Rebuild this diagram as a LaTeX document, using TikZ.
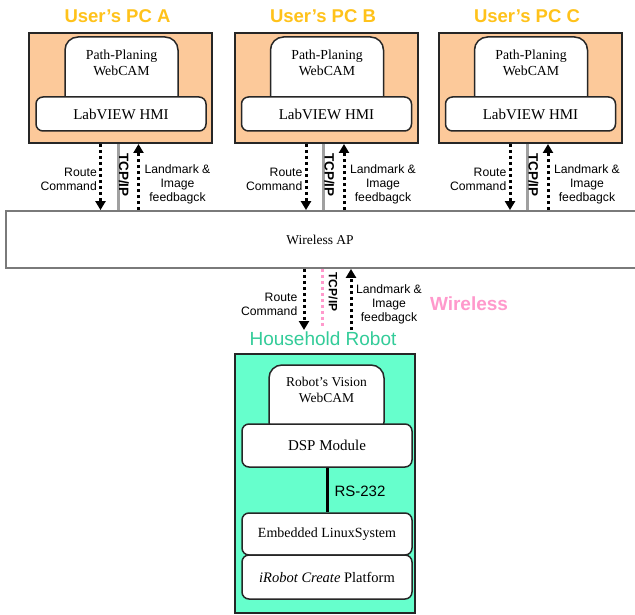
\documentclass[tikz,border=0pt]{standalone}
\usepackage{fontspec}
\setmainfont{Liberation Serif}
\setsansfont{Liberation Sans}
\usetikzlibrary{arrows.meta,calc}

\definecolor{pcfill}{HTML}{FCC99A}
\definecolor{robotfill}{HTML}{66FFCC}
\definecolor{titlegold}{HTML}{FFC21A}
\definecolor{robotteal}{HTML}{33CC99}
\definecolor{wirelesspink}{HTML}{FF99CC}
\definecolor{apgray}{HTML}{7A7A7A}
\definecolor{tcpgray}{HTML}{A0A0A0}

\tikzset{
  outerbox/.style={draw=black!85, line width=2pt, fill=#1, inner sep=0pt},
  cambox/.style={draw=black!85, line width=1.5pt, fill=white, rounded corners=13pt, inner sep=0pt},
  modbox/.style={draw=black!85, line width=1.5pt, fill=white, rounded corners=7pt, inner sep=0pt,
    font=\fontsize{15}{17}\selectfont},
  boxtext/.style={align=center, font=\fontsize{13.8}{16}\selectfont, inner sep=0pt},
  title/.style={font=\sffamily\bfseries\fontsize{18.5}{20}\selectfont, text=titlegold, inner sep=0pt},
  lbl/.style={font=\sffamily\fontsize{12.2}{14}\selectfont, inner sep=0pt},
  tcplbl/.style={font=\sffamily\bfseries\fontsize{13.5}{15}\selectfont, rotate=-90, inner sep=0pt},
  flow/.style={line width=3pt, dash pattern=on 3pt off 3pt,
    -{Triangle[width=10pt,length=9pt]}},
  tcpline/.style={line width=3pt, draw=tcpgray},
  wlline/.style={line width=3pt, draw=wirelesspink, dash pattern=on 3pt off 3pt},
}

\begin{document}
\begin{tikzpicture}[x=1pt,y=-1pt]
\useasboundingbox (0,0) rectangle (635,615);
\fill[white] (0,0) rectangle (635,615);

% Wireless access point bar (runs past the right edge)
\node[draw=apgray, line width=1.8pt, fill=white, minimum width=634pt, minimum height=57pt,
  inner sep=0pt] (wap) at (323,239.5) {};
\node[boxtext, font=\fontsize{13.5}{15}\selectfont] (waptext) at (320,240) {Wireless AP};

% The three user PCs
\foreach \n/\cx in {A/120.5, B/326, C/530}{
  \node[outerbox=pcfill, minimum width=183pt, minimum height=110pt] (pc\n) at (\cx,88) {};
  \node[cambox, minimum width=113pt, minimum height=73pt] (cam\n) at (\cx+1,73.5) {};
  \node[boxtext] (camtext\n) at (\cx+1,63) {Path-Planing\\WebCAM};
  \node[modbox, minimum width=170pt, minimum height=34pt] (hmi\n) at (\cx+0.5,114) {LabVIEW HMI};
  \node[title] (title\n) at (\cx-3,16) {User’s PC \n};

  % links down to the access point
  \draw[flow] ([xshift=-20pt]pc\n.south) -- ([xshift=-20pt]pc\n.south |- wap.north);
  \draw[tcpline] ([xshift=-2.5pt]pc\n.south) -- ([xshift=-2.5pt]pc\n.south |- wap.north);
  \draw[flow] ([xshift=18pt]pc\n.south |- wap.north) -- ([xshift=18pt]pc\n.south);
  \node[tcplbl] (tcp\n) at (\cx+3.5,175) {TCP/IP};
  \node[lbl, align=right, anchor=east] (route\n) at (\cx-23.5,179) {Route\\Command};
  \node[lbl, align=center] (feed\n) at (\cx+57,184) {Landmark \&\\Image\\feedbagck};
}

% Household robot
\node[font=\sffamily\fontsize{19}{21}\selectfont, text=robotteal, inner sep=0pt] (robottitle) at (323,339) {Household Robot};
\node[outerbox=robotfill, minimum width=180pt, minimum height=259pt] (robot) at (325,483.5) {};
\node[cambox, minimum width=115pt, minimum height=70pt] (vcam) at (326.5,400) {};
\node[boxtext, font=\fontsize{13.5}{16}\selectfont] (vcamtext) at (326.5,390) {Robot’s Vision\\WebCAM};
\node[modbox, minimum width=170pt, minimum height=43pt] (dsp) at (327,445.5) {DSP Module};
\node[modbox, minimum width=170pt, minimum height=42pt, font=\fontsize{14}{16}\selectfont] (linux) at (327,534) {Embedded LinuxSystem};
\node[modbox, minimum width=170pt, minimum height=44pt, font=\fontsize{14.5}{16}\selectfont] (irobot) at (327,577) {\textit{iRobot Create} Platform};
\draw[line width=3pt] (dsp.south) -- (linux.north);
\node[font=\sffamily\fontsize{15}{17}\selectfont, inner sep=0pt] (rs) at (360,491) {RS-232};

% Wireless link between access point and robot
\coordinate (rtop) at (304,268);
\coordinate (rbot) at (304,330);
\draw[flow] (wap.south -| rtop) -- (rbot);
\coordinate (wtop) at (322,268);
\coordinate (wbot) at (322,326);
\draw[wlline] (wap.south -| wtop) -- (wbot);
\coordinate (ftop) at (351,268);
\coordinate (fbot) at (351,330);
\draw[flow] (fbot) -- (wap.south -| ftop);
\node[tcplbl, font=\sffamily\bfseries\fontsize{12}{14}\selectfont] (tcpw) at (333,292) {TCP/IP};
\node[lbl, align=right, anchor=east] (routew) at (297.5,304) {Route\\Command};
\node[lbl, align=center] (feedw) at (389,304) {Landmark \&\\Image\\feedbagck};
\node[font=\sffamily\bfseries\fontsize{19}{21}\selectfont, text=wirelesspink, inner sep=0pt] (wl) at (469,304) {Wireless};
\end{tikzpicture}
\end{document}
